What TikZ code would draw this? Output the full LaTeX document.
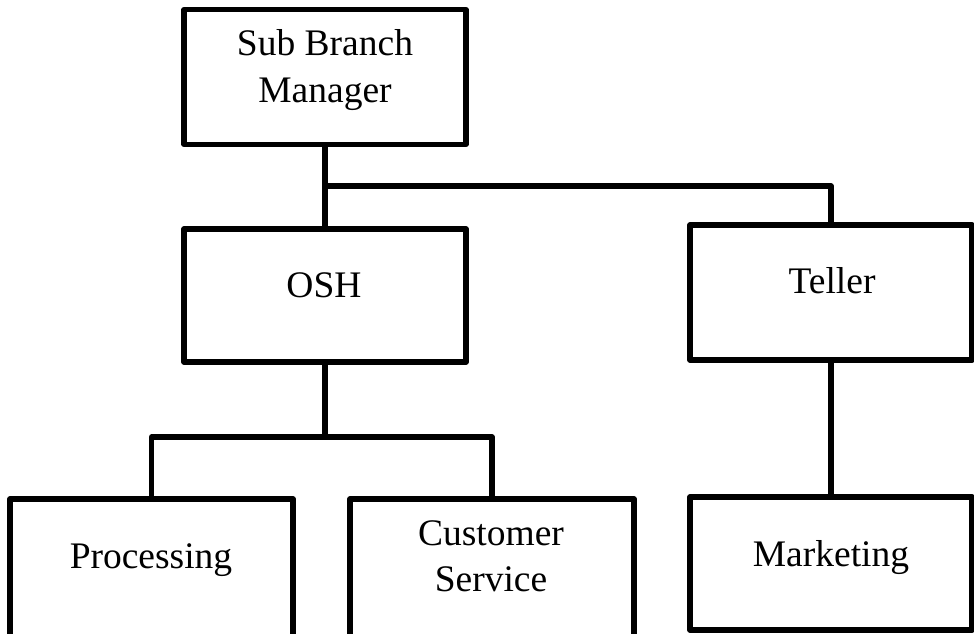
\documentclass[tikz,border=0pt]{standalone}
\usepackage{fontspec}
\setmainfont{Liberation Serif}
\begin{document}
\begin{tikzpicture}[x=1pt,y=-1pt,
  box/.style={draw=black,line width=5.3pt,line join=round,inner sep=0pt,outer sep=0pt,fill=white},
  conn/.style={draw=black,line width=5.3pt,line join=round},
  lbl/.style={anchor=base,inner sep=0pt,font=\fontsize{37.5}{46}\selectfont}]
\useasboundingbox (0,0) rectangle (974,633);
\clip (0,0) rectangle (974,633);
% boxes
\node[box,minimum width=282pt,minimum height=134.5pt] (sbm) at (325,77) {};
\node[box,minimum width=282pt,minimum height=133pt] (osh) at (325,295.5) {};
\node[box,minimum width=282pt,minimum height=135pt] (teller) at (831,292.5) {};
\node[box,minimum width=283pt,minimum height=150pt] (proc) at (151.5,574) {};
\node[box,minimum width=284pt,minimum height=150pt] (cs) at (492,574) {};
\node[box,minimum width=282pt,minimum height=133pt] (mkt) at (831,563.5) {};
% connectors
\coordinate (j1) at (325,186);
\coordinate (j2) at (325,437);
\draw[conn] (sbm.south) -- (j1) -| (teller.north);
\draw[conn] (j1) -- (osh.north);
\draw[conn] (osh.south) -- (j2);
\draw[conn] (proc.north) |- (j2) -| (cs.north);
\draw[conn] (teller.south) -- (mkt.north);
% labels
\node[lbl] (tsbm1) at (325,55) {Sub Branch};
\node[lbl] (tsbm2) at (325,102) {Manager};
\node[lbl] (tosh) at (324,297) {OSH};
\node[lbl] (ttel) at (832,293) {Teller};
\node[lbl] (tproc) at (151,568) {Processing};
\node[lbl] (tcs1) at (491,545) {Customer};
\node[lbl] (tcs2) at (491,591) {Service};
\node[lbl] (tmkt) at (831,566) {Marketing};
\end{tikzpicture}
\end{document}
